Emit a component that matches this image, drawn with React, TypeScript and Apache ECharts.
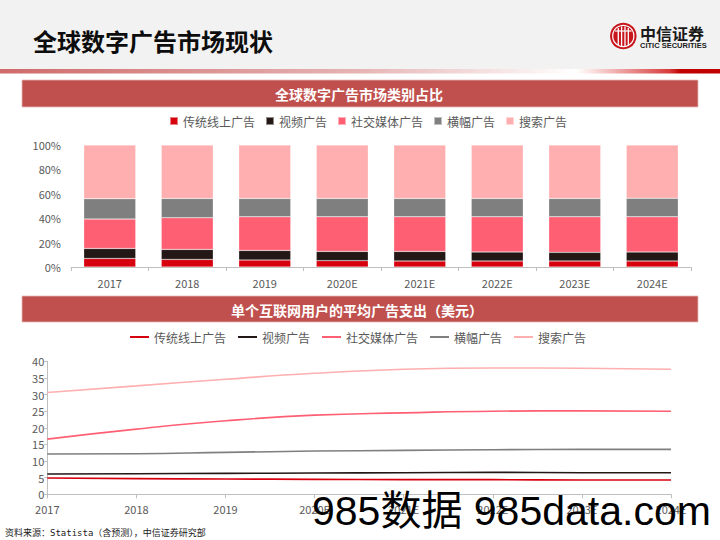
import React, { useEffect, useRef } from "react";
import * as echarts from "echarts";

const categories = ["2017", "2018", "2019", "2020E", "2021E", "2022E", "2023E", "2024E"];
const seriesNames = ["传统线上广告", "视频广告", "社交媒体广告", "横幅广告", "搜索广告"];
const seriesColors = ["#d7000f", "#231815", "#ff5f73", "#7f7f7f", "#ffafaf"];

// share of digital ad market (%), stacked
const traditionalShare = [7.0, 6.2, 5.7, 5.2, 4.9, 4.9, 4.9, 4.9];
const videoShare = [8.2, 8.2, 7.9, 7.6, 7.9, 7.4, 7.1, 7.4];
const socialShare = [24.1, 26.0, 27.6, 28.4, 28.4, 28.9, 29.2, 28.9];
const bannerShare = [16.7, 15.8, 15.0, 15.0, 15.0, 15.0, 15.0, 15.2];
const searchShare = [44.0, 43.8, 43.8, 43.8, 43.8, 43.8, 43.8, 43.6];

// average ad spend per internet user (USD)
const traditionalSpend = [4.9, 4.7, 4.6, 4.5, 4.4, 4.4, 4.3, 4.3];
const videoSpend = [6.1, 6.2, 6.3, 6.4, 6.5, 6.6, 6.5, 6.5];
const socialSpend = [16.6, 19.6, 22.1, 23.8, 24.5, 25.0, 25.1, 25.0];
const bannerSpend = [12.1, 12.2, 12.6, 13.0, 13.2, 13.4, 13.5, 13.5];
const searchSpend = [30.6, 32.6, 34.6, 36.4, 37.6, 38.0, 37.9, 37.6];

const pageTitle = "全球数字广告市场现状";
const panelTitle1 = "全球数字广告市场类别占比";
const panelTitle2 = "单个互联网用户的平均广告支出（美元）";
const sourceText = "资料来源：Statista（含预测），中信证券研究部";
const watermark = "985数据 985data.com";

const shareData = [traditionalShare, videoShare, socialShare, bannerShare, searchShare];
const spendData = [traditionalSpend, videoSpend, socialSpend, bannerSpend, searchSpend];

const CJK = "'Noto Sans CJK SC', 'Microsoft YaHei', sans-serif";
const LABEL = "#595959";
const AXIS = "#bfbfbf";
const SUFFIX = "#2";

export default function App() {
  const ref = useRef<HTMLDivElement>(null);

  useEffect(() => {
    if (!ref.current) return;
    const chart = echarts.init(ref.current, undefined, { renderer: "svg" });

    const barSeries = seriesNames.map((name, i) => ({
      name,
      type: "bar",
      stack: "share",
      xAxisIndex: 0,
      yAxisIndex: 0,
      barWidth: 52,
      data: shareData[i],
      itemStyle: { color: seriesColors[i], borderColor: "rgba(255,255,255,0.5)", borderWidth: 0.5 },
    }));

    const lineSeries = seriesNames.map((name, i) => ({
      name: name + SUFFIX,
      type: "line",
      xAxisIndex: 1,
      yAxisIndex: 1,
      smooth: true,
      showSymbol: false,
      symbol: "none",
      data: spendData[i],
      lineStyle: { color: seriesColors[i], width: 1.6 },
      itemStyle: { color: seriesColors[i] },
    }));

    const option: any = {
      animation: false,
      backgroundColor: "#ffffff",
      textStyle: { fontFamily: CJK },
      legend: [
        {
          data: seriesNames,
          left: 169,
          top: 115,
          padding: 0,
          icon: "rect",
          itemWidth: 8,
          itemHeight: 8,
          itemGap: 10,
          textStyle: { color: LABEL, fontSize: 12, fontFamily: CJK },
          selectedMode: false,
        },
        {
          data: seriesNames.map((n) => n + SUFFIX),
          left: 130,
          top: 331,
          padding: 0,
          icon: "rect",
          itemWidth: 19,
          itemHeight: 2,
          itemGap: 12,
          formatter: (n: string) => n.replace(SUFFIX, ""),
          textStyle: { color: LABEL, fontSize: 12, fontFamily: CJK },
          selectedMode: false,
        },
      ],
      grid: [
        { left: 71, right: 29, top: 145, bottom: 273, containLabel: false },
        { left: 47.3, right: 49, top: 361.3, bottom: 45.7, containLabel: false },
      ],
      xAxis: [
        {
          type: "category",
          gridIndex: 0,
          data: categories,
          axisLine: { lineStyle: { color: AXIS } },
          axisTick: { show: true, length: 4, lineStyle: { color: AXIS } },
          axisLabel: { color: LABEL, fontSize: 11, margin: 10, fontFamily: CJK },
        },
        {
          type: "category",
          gridIndex: 1,
          data: categories,
          boundaryGap: false,
          axisLine: { lineStyle: { color: AXIS } },
          axisTick: { show: true, length: 4, lineStyle: { color: AXIS } },
          axisLabel: { color: LABEL, fontSize: 11, margin: 9, fontFamily: CJK },
        },
      ],
      yAxis: [
        {
          type: "value",
          gridIndex: 0,
          min: 0,
          max: 100,
          interval: 20,
          axisLine: { show: false },
          axisTick: { show: false },
          splitLine: { show: false },
          axisLabel: { color: LABEL, fontSize: 11, margin: 10, formatter: "{value}%", fontFamily: CJK },
        },
        {
          type: "value",
          gridIndex: 1,
          min: 0,
          max: 40,
          interval: 5,
          axisLine: { show: true, lineStyle: { color: AXIS } },
          axisTick: { show: true, length: 3, lineStyle: { color: AXIS } },
          splitLine: { show: false },
          axisLabel: { color: LABEL, fontSize: 11, margin: 3, fontFamily: CJK },
        },
      ],
      series: [...barSeries, ...lineSeries],
      graphic: [
        { type: "rect", z: 0, shape: { x: 0, y: 0, width: 720, height: 69 }, style: { fill: "#f2f2f2" } },
        {
          type: "rect",
          shape: { x: 0, y: 69, width: 720, height: 4.5 },
          style: {
            fill: new echarts.graphic.LinearGradient(0, 0, 1, 0, [
              { offset: 0, color: "#cf6a6a" },
              { offset: 0.5, color: "#e6b4b4" },
              { offset: 0.8, color: "#ffffff" },
              { offset: 0.82, color: "#fbe4e4" },
              { offset: 0.93, color: "#d83a3a" },
              { offset: 0.945, color: "#c00000" },
              { offset: 1, color: "#c00000" },
            ]),
          },
        },
        {
          type: "text",
          x: 33,
          y: 40,
          style: {
            text: pageTitle,
            fill: "#0d0d0d",
            fontSize: 24,
            fontWeight: "bold",
            fontFamily: CJK,
            verticalAlign: "middle",
          },
        },
        // logo
        { type: "circle", shape: { cx: 623.3, cy: 36, r: 13.3 }, style: { fill: "#c8161d" } },
        { type: "circle", shape: { cx: 623.3, cy: 36, r: 10.6 }, style: { fill: "none", stroke: "#ffffff", lineWidth: 1.2 } },
        { type: "line", shape: { x1: 618.3, y1: 28, x2: 618.3, y2: 45 }, style: { stroke: "#ffffff", lineWidth: 1.3 } },
        { type: "line", shape: { x1: 621.6, y1: 26.5, x2: 621.6, y2: 46 }, style: { stroke: "#ffffff", lineWidth: 1.3 } },
        { type: "line", shape: { x1: 625, y1: 26.5, x2: 625, y2: 46 }, style: { stroke: "#ffffff", lineWidth: 1.3 } },
        { type: "line", shape: { x1: 628.3, y1: 28, x2: 628.3, y2: 45 }, style: { stroke: "#ffffff", lineWidth: 1.3 } },
        { type: "line", shape: { x1: 615, y1: 31, x2: 631.6, y2: 31 }, style: { stroke: "#ffffff", lineWidth: 1.2 } },
        {
          type: "text",
          x: 640,
          y: 33,
          style: {
            text: "中信证券",
            fill: "#1a1a1a",
            fontSize: 16,
            fontWeight: "bold",
            fontFamily: CJK,
            verticalAlign: "middle",
          },
        },
        {
          type: "text",
          x: 640,
          y: 45,
          style: {
            text: "CITIC SECURITIES",
            fill: "#1a1a1a",
            fontSize: 7.5,
            fontWeight: "bold",
            fontFamily: "'Liberation Sans Narrow', 'Liberation Sans', Arial, sans-serif",
            verticalAlign: "middle",
          },
        },
        // panel titles
        {
          type: "rect",
          shape: { x: 22, y: 80, width: 676, height: 27 },
          style: { fill: "#c0504d", stroke: "#e6b8b7", lineWidth: 0.8 },
        },
        {
          type: "text",
          x: 359,
          y: 94,
          style: {
            text: panelTitle1,
            fill: "#ffffff",
            fontSize: 14,
            fontWeight: "bold",
            fontFamily: CJK,
            align: "center",
            verticalAlign: "middle",
          },
        },
        {
          type: "rect",
          shape: { x: 22, y: 296, width: 676, height: 26 },
          style: { fill: "#c0504d", stroke: "#e6b8b7", lineWidth: 0.8 },
        },
        {
          type: "text",
          x: 357,
          y: 309.5,
          style: {
            text: panelTitle2,
            fill: "#ffffff",
            fontSize: 14,
            fontWeight: "bold",
            fontFamily: CJK,
            align: "center",
            verticalAlign: "middle",
          },
        },
        {
          type: "text",
          x: 5,
          y: 533,
          style: {
            text: sourceText,
            fill: "#1a1a1a",
            fontSize: 9,
            fontFamily: "'DejaVu Sans Mono', 'Noto Sans CJK SC', monospace",
            verticalAlign: "middle",
          },
        },
        {
          type: "text",
          z: 100,
          x: 312,
          y: 511,
          style: {
            text: watermark,
            fill: "#000000",
            fontSize: 41,
            fontFamily: "'Liberation Sans', Arial, 'Noto Sans CJK SC', sans-serif",
            verticalAlign: "middle",
          },
        },
      ],
    };

    chart.setOption(option);
    return () => chart.dispose();
  }, []);

  return (
    <div
      ref={ref}
      style={{ position: "fixed", left: 0, top: 0, width: 720, height: 540, background: "#ffffff" }}
    />
  );
}
